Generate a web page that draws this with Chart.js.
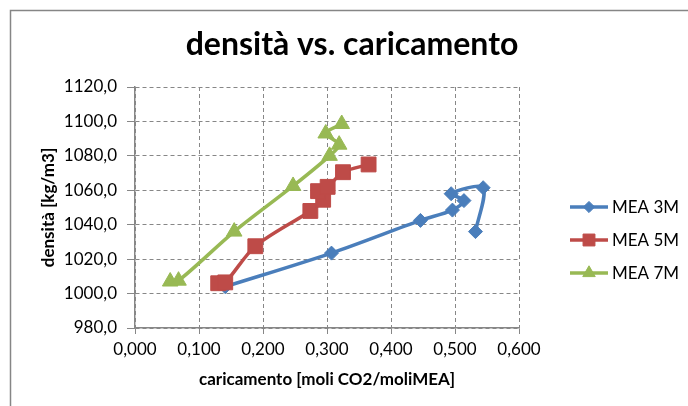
<!DOCTYPE html>
<html>
<head>
<meta charset="utf-8">
<script src="https://cdn.jsdelivr.net/npm/chart.js@4.4.0/dist/chart.umd.min.js"></script>
<style>
    html, body { margin: 0; padding: 0; background: #fff; }
    #box { position: relative; width: 688px; height: 406px; }
</style>
</head>
<body>
<div id="box"><canvas id="density-chart" width="688" height="406"></canvas></div>
<script>
'use strict';

// caricamento [moli CO2/moliMEA] vs densità [kg/m3]
const seriesLabels = ['MEA 3M', 'MEA 5M', 'MEA 7M'];
const seriesColors = ['#4a7ebb', '#be4b48', '#98b954'];
const seriesMarkers = ['rectRot', 'rect', 'triangle'];

const mea3mX = [0.141, 0.307, 0.446, 0.496, 0.514, 0.494, 0.544, 0.532];
const mea3mY = [1004.0, 1023.5, 1042.5, 1048.5, 1054.0, 1058.0, 1061.5, 1036.0];

const mea5mX = [0.130, 0.141, 0.188, 0.274, 0.294, 0.286, 0.301, 0.325, 0.365];
const mea5mY = [1006.0, 1006.5, 1027.5, 1048.0, 1054.5, 1059.5, 1062.0, 1070.5, 1075.0];

const mea7mX = [0.055, 0.068, 0.155, 0.247, 0.304, 0.319, 0.298, 0.323];
const mea7mY = [1007.0, 1007.5, 1036.0, 1062.5, 1080.0, 1086.5, 1093.0, 1098.5];

const xTicks = [0, 0.1, 0.2, 0.3, 0.4, 0.5, 0.6];
const yTicks = [980, 1000, 1020, 1040, 1060, 1080, 1100, 1120];

const chartTitle = 'densità vs. caricamento';
const xTitle = 'caricamento [moli CO2/moliMEA]';
const yTitle = 'densità [kg/m3]';

const fontFamily = 'Lato, "Open Sans", sans-serif';
const gridColor = '#878787';

function toPoints(xs, ys) {
    return xs.map(function (x, i) { return {x: x, y: ys[i]}; });
}

const allSeries = [
    toPoints(mea3mX, mea3mY),
    toPoints(mea5mX, mea5mY),
    toPoints(mea7mX, mea7mY),
];
const markerRadius = [7, 10.5, 9];

let datasets = allSeries.map(function (pts, i) {
    return {
        label: seriesLabels[i],
        data: pts,
        showLine: true,
        borderColor: seriesColors[i],
        backgroundColor: seriesColors[i],
        borderWidth: 3.5,
        tension: 0.3,
        pointStyle: seriesMarkers[i],
        pointRadius: markerRadius[i],
        pointBorderWidth: 1,
        pointBorderColor: seriesColors[i],
        pointBackgroundColor: seriesColors[i],
        order: 3 - i,
    };
});

// frame, title and legend, Excel style
const decorPlugin = {
    id: 'decor',
    beforeDraw: function (chart) {
        let ctx = chart.ctx;
        ctx.save();
        ctx.fillStyle = '#fff';
        ctx.fillRect(0, 0, chart.width, chart.height);
        ctx.strokeStyle = '#868686';
        ctx.lineWidth = 1.5;
        ctx.strokeRect(10.5, 10.5, 720, 440);
        ctx.restore();
    },
    afterDraw: function (chart) {
        let ctx = chart.ctx;
        ctx.save();
        ctx.fillStyle = '#000';
        ctx.font = 'bold 32px ' + fontFamily;
        ctx.textAlign = 'center';
        ctx.textBaseline = 'middle';
        ctx.fillText(chartTitle, 352, 45);

        ctx.font = '17px ' + fontFamily;
        ctx.textAlign = 'left';
        seriesLabels.forEach(function (label, i) {
            let y = 207 + i * 33;
            ctx.strokeStyle = seriesColors[i];
            ctx.fillStyle = seriesColors[i];
            ctx.lineWidth = 3.5;
            ctx.beginPath();
            ctx.moveTo(570, y);
            ctx.lineTo(608, y);
            ctx.stroke();
            ctx.lineWidth = 1;
            Chart.helpers.drawPoint(ctx, {
                pointStyle: seriesMarkers[i],
                radius: markerRadius[i] * 0.8,
                rotation: 0,
                borderWidth: 1,
            }, 589, y);
            ctx.fillStyle = '#000';
            ctx.fillText(label, 612, y + 1);
        });
        ctx.restore();
    },
};

let ctx = document.getElementById('density-chart').getContext('2d');
window.densityChart = new Chart(ctx, {
    type: 'scatter',
    data: {datasets: datasets},
    options: {
        responsive: false,
        animation: false,
        layout: {padding: {left: 10, top: 87, right: 169, bottom: 0}},
        plugins: {
            legend: {display: false},
            tooltip: {enabled: false},
        },
        scales: {
            x: {
                type: 'linear',
                min: xTicks[0],
                max: xTicks[xTicks.length - 1],
                afterBuildTicks: function (scale) {
                    scale.ticks = xTicks.map(function (v) { return {value: v}; });
                },
                afterFit: function (scale) { scale.height = 78; },
                ticks: {
                    color: '#000',
                    padding: 5,
                    font: {family: fontFamily, size: 17},
                    callback: function (v) { return Number(v).toFixed(3).replace('.', ','); },
                },
                grid: {
                    color: gridColor,
                    lineWidth: 1,
                    tickLength: 6,
                    tickColor: gridColor,
                    tickBorderDash: [],
                },
                border: {display: true, color: gridColor, width: 1.5, dash: [4, 3]},
                title: {
                    display: true,
                    text: xTitle,
                    color: '#000',
                    font: {family: fontFamily, size: 17, weight: 'bold'},
                    padding: {top: 0, bottom: 16},
                },
            },
            y: {
                type: 'linear',
                min: yTicks[0],
                max: yTicks[yTicks.length - 1],
                afterBuildTicks: function (scale) {
                    scale.ticks = yTicks.map(function (v) { return {value: v}; });
                },
                afterFit: function (scale) { scale.width = 125; },
                ticks: {
                    color: '#000',
                    padding: 10,
                    font: {family: fontFamily, size: 17},
                    callback: function (v) { return Number(v).toFixed(1).replace('.', ','); },
                },
                grid: {
                    color: gridColor,
                    lineWidth: 1,
                    tickLength: 8,
                    tickColor: gridColor,
                    tickBorderDash: [],
                },
                border: {display: true, color: gridColor, width: 1.5, dash: [4, 3]},
                title: {
                    display: true,
                    text: yTitle,
                    color: '#000',
                    font: {family: fontFamily, size: 17, weight: 'bold'},
                    padding: {top: 28, bottom: 0},
                },
            },
        },
    },
    plugins: [decorPlugin],
});
</script>
</body>
</html>
